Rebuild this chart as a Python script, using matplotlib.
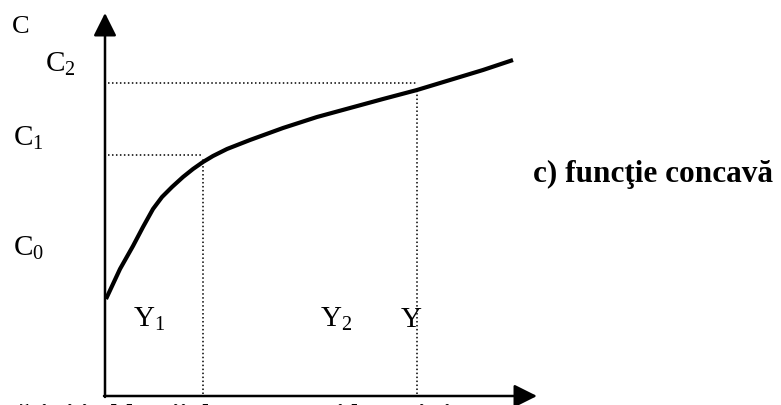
import matplotlib
matplotlib.use("Agg")
import matplotlib.pyplot as plt

plt.rcParams['font.family'] = ['Liberation Serif', 'DejaVu Serif']
plt.rcParams['mathtext.fontset'] = 'custom'
plt.rcParams['mathtext.rm'] = 'Liberation Serif'
plt.rcParams['mathtext.it'] = 'Liberation Serif:italic'

# curba C(Y) (unitati arbitrare, originea in coltul axelor)
venit = [1, 15, 28, 38, 48, 57, 67, 78, 88, 98, 108, 122, 145, 178,
         212, 245, 278, 312, 345, 378, 408]
consum = [97, 127, 150, 169, 187, 199, 209, 219, 227, 234, 240, 247, 256, 268,
          279, 288, 297, 306, 316, 326, 336]

# nivelurile marcate punctat
Y1, Y2 = 98, 312
C1, C2 = 241, 313
x_max, y_max = 432, 383

fig = plt.figure(figsize=(7.81, 4.06), dpi=100)
ax = fig.add_axes([0, 0, 1, 1])
ax.set_xlim(-105, 676)
ax.set_ylim(-9, 397)
ax.axis('off')

# axele cu sageti
arr = dict(arrowstyle='-|>,head_length=1.0,head_width=0.5', color='black', lw=1.8,
           shrinkA=0, shrinkB=0, mutation_scale=14)
ax.annotate('', xy=(0, y_max), xytext=(0, -1), arrowprops=arr)
ax.annotate('', xy=(x_max, 0), xytext=(-1, 0), arrowprops=arr)

# liniile punctate
dot = dict(color='black', lw=1.1, linestyle=(0, (1, 1.6)))
ax.plot([3, Y1], [C1, C1], **dot)
ax.plot([3, Y2], [C2, C2], **dot)
ax.plot([Y1, Y1], [2, C1 - 4], **dot)
ax.plot([Y2, Y2], [2, C2 - 5], **dot)

# functia
ax.plot(venit, consum, color='black', lw=3.0, solid_capstyle='butt', solid_joinstyle='round')

fs = 21
ax.text(-93, 364, 'C', fontsize=19)
ax.text(-60, 325, r'$\mathrm{C}_2$', fontsize=fs)
ax.text(-92, 251, r'$\mathrm{C}_1$', fontsize=fs)
ax.text(-92, 141, r'$\mathrm{C}_0$', fontsize=fs)
ax.text(28, 70, r'$\mathrm{Y}_1$', fontsize=fs)
ax.text(215, 70, r'$\mathrm{Y}_2$', fontsize=fs)
ax.text(296, 70, 'Y', fontsize=fs)
ax.text(428, 215, 'c) funcţie concavă', fontsize=22.5, fontweight='bold')

# randul de text taiat de marginea de jos
ax.text(-97, -26, 'tăţi şi in bl unii de consum ţi lor uşi şi', fontsize=20,
        fontweight='bold', clip_on=False)

fig.savefig('out.png', dpi=100)
